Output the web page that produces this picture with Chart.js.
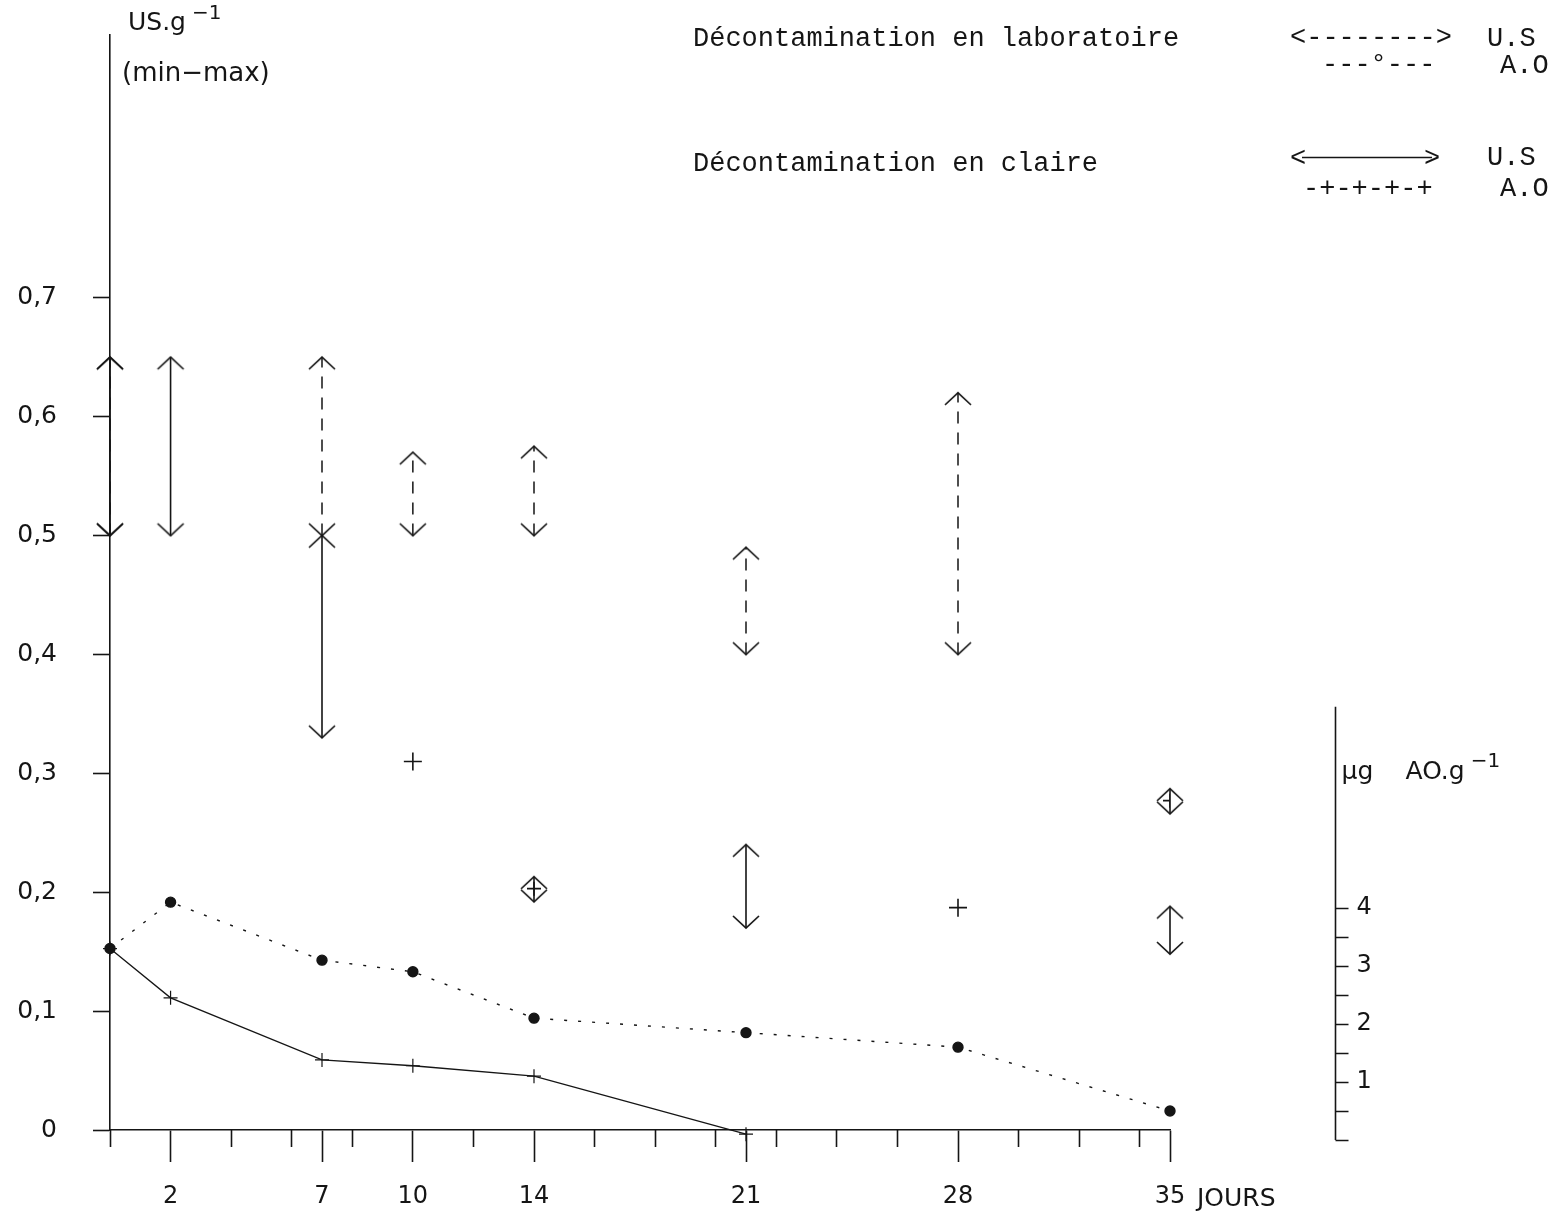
<!DOCTYPE html>
<html lang="fr">
<head>
<meta charset="utf-8">
<title>Décontamination en laboratoire / en claire</title>
<script src="https://cdn.jsdelivr.net/npm/chart.js@4.4.1/dist/chart.umd.min.js"></script>
<style>
  html, body { margin: 0; padding: 0; background: #fff; }
</style>
</head>
<body>
<canvas id="chart" width="1557" height="1221"></canvas>
<script>
// jours (axe x)
const X_MAJOR_TICKS = [2, 7, 10, 14, 21, 28, 35];
const X_MINOR_TICKS = [0, 4, 6, 8, 12, 16, 18, 20, 22, 24, 26, 30, 32, 34];
// axe gauche : US.g-1
const Y_TICKS = [0, 0.1, 0.2, 0.3, 0.4, 0.5, 0.6, 0.7];
// axe droit : µg AO.g-1
const AO_TICKS = [0, 0.5, 1, 1.5, 2, 2.5, 3, 3.5, 4];
const AO_LABELED = [1, 2, 3, 4];

// U.S (min-max), décontamination en laboratoire
const LAB_US_DAYS = [0, 7, 10, 14, 21, 28];
const LAB_US_MIN = [0.50, 0.50, 0.50, 0.50, 0.40, 0.40];
const LAB_US_MAX = [0.65, 0.65, 0.57, 0.575, 0.49, 0.62];

// U.S (min-max), décontamination en claire
const CLAIRE_US_DAYS = [0, 2, 7, 14, 21, 35, 35];
const CLAIRE_US_MIN = [0.50, 0.50, 0.33, 0.192, 0.17, 0.148, 0.266];
const CLAIRE_US_MAX = [0.65, 0.65, 0.50, 0.213, 0.24, 0.188, 0.287];

// valeurs isolées (+)
const US_SINGLE_DAYS = [10, 28];
const US_SINGLE_VALUES = [0.31, 0.187];
const US_INNER_DAYS = [14, 35];
const US_INNER_VALUES = [0.203, 0.277];

// A.O
const LAB_AO_DAYS = [0, 2, 7, 10, 14, 21, 28, 35];
const LAB_AO = [3.3, 4.1, 3.1, 2.9, 2.1, 1.85, 1.6, 0.5];
const CLAIRE_AO_DAYS = [0, 2, 7, 10, 14, 21];
const CLAIRE_AO = [3.3, 2.45, 1.38, 1.28, 1.1, 0.1];

const INK = '#151515';
const SANS = '"DejaVu Sans", sans-serif';
const MONO = '"Liberation Mono", monospace';

// bornes des échelles
const X_MAX = 35;
const Y_MAX = 0.921;
const AO_MIN = 0.172;
const AO_MAX = 19.05;
const AO_AXIS_DAY = 40.45;   // position de l'axe droit
const AO_AXIS_TOP = 7.47;

// pointes de flèche (la pointe est au centre de l'image)
function arrowHead(dir) {
    const c = document.createElement('canvas');
    c.width = 30; c.height = 30;
    const g = c.getContext('2d');
    g.strokeStyle = INK;
    g.lineWidth = 1.7;
    const dy = dir === 'up' ? 12 : -12;
    g.beginPath();
    g.moveTo(2, 15 + dy);
    g.lineTo(15, 15);
    g.lineTo(28, 15 + dy);
    g.stroke();
    return c;
}
const ARROW_UP = arrowHead('up');
const ARROW_DOWN = arrowHead('down');

const rangePoints = (days, mins, maxs) => days.flatMap((d, i) => [
    { x: d, y: mins[i] },
    { x: d, y: maxs[i] },
    { x: d, y: null }
]);
const xy = (days, vals) => days.map((d, i) => ({ x: d, y: vals[i] }));

const arrowStyle = (ctx) => ctx.dataIndex % 3 === 0 ? ARROW_DOWN : ARROW_UP;

function drawSup(ctx, base, sup, x, y, size, supSize, rise) {
    ctx.font = `${size}px ${SANS}`;
    ctx.fillText(base, x, y);
    const w = ctx.measureText(base).width;
    ctx.font = `${supSize}px ${SANS}`;
    ctx.fillText(sup, x + w + 6, y - rise);
}

const decorPlugin = {
    id: 'decor',
    afterDraw(chart) {
        const { ctx, chartArea, scales } = chart;
        const xs = scales.x;
        const ao = scales.y2;
        ctx.save();
        ctx.fillStyle = INK;
        ctx.strokeStyle = INK;
        ctx.textBaseline = 'alphabetic';
        ctx.textAlign = 'left';

        // titre axe gauche
        drawSup(ctx, 'US.g', '−1', chartArea.left + 18, chartArea.top - 5, 25, 20, 11);
        ctx.font = `26px ${SANS}`;
        ctx.fillText('(min−max)', chartArea.left + 12, chartArea.top + 46);

        // "JOURS" après le 35
        ctx.font = `25px ${SANS}`;
        ctx.fillText('JOURS', xs.getPixelForValue(X_MAX) + 27, 1206);

        // axe droit µg AO.g-1
        const ax = Math.round(xs.getPixelForValue(AO_AXIS_DAY)) + 0.5;
        const y0 = ao.getPixelForValue(0);
        const yTop = ao.getPixelForValue(AO_AXIS_TOP);
        ctx.lineWidth = 1.6;
        ctx.beginPath();
        ctx.moveTo(ax, yTop);
        ctx.lineTo(ax, y0);
        AO_TICKS.forEach(v => {
            const ty = Math.round(ao.getPixelForValue(v)) + 0.5;
            ctx.moveTo(ax, ty);
            ctx.lineTo(ax + 13, ty);
        });
        ctx.stroke();
        ctx.font = `24px ${SANS}`;
        ctx.textBaseline = 'middle';
        AO_LABELED.forEach(v => {
            ctx.fillText(String(v), ax + 21, ao.getPixelForValue(v));
        });
        ctx.textBaseline = 'alphabetic';
        ctx.font = `25px ${SANS}`;
        ctx.fillText('µg', ax + 6, yTop + 72);
        drawSup(ctx, 'AO.g', '−1', ax + 70, yTop + 72, 25, 20, 12);

        // légende
        ctx.font = `27px ${MONO}`;
        ctx.fillText('Décontamination en laboratoire', 693, 46);
        ctx.fillText('<-------->', 1290, 45);
        ctx.fillText('U.S', 1487, 46);
        ctx.fillText('---°---', 1322, 72);
        ctx.fillText('A.O', 1500, 73);

        ctx.fillText('Décontamination en claire', 693, 171);
        ctx.fillText('<', 1290, 166);
        ctx.fillText('>', 1424, 166);
        ctx.lineWidth = 1.6;
        ctx.beginPath();
        ctx.moveTo(1302, 157.5);
        ctx.lineTo(1432, 157.5);
        ctx.stroke();
        ctx.fillText('U.S', 1487, 165);
        ctx.fillText('-+-+-+-+', 1303, 196);
        ctx.fillText('A.O', 1500, 196);
        ctx.restore();
    }
};

const usFormat = (v) => v === 0 ? '0' : v.toFixed(1).replace('.', ',');

new Chart(document.getElementById('chart'), {
    type: 'line',
    data: {
        datasets: [
            {
                label: 'U.S laboratoire',
                data: rangePoints(LAB_US_DAYS, LAB_US_MIN, LAB_US_MAX),
                borderColor: INK,
                borderWidth: 1.5,
                borderDash: [12, 9],
                pointStyle: arrowStyle,
                pointRadius: 1,
                spanGaps: false,
                clip: false
            },
            {
                label: 'U.S claire',
                data: rangePoints(CLAIRE_US_DAYS, CLAIRE_US_MIN, CLAIRE_US_MAX),
                borderColor: INK,
                borderWidth: 1.6,
                pointStyle: arrowStyle,
                pointRadius: 1,
                spanGaps: false,
                clip: false
            },
            {
                label: 'U.S valeurs isolées',
                data: xy(US_SINGLE_DAYS, US_SINGLE_VALUES),
                showLine: false,
                pointStyle: 'cross',
                pointRadius: 9,
                pointBorderWidth: 1.6,
                pointBorderColor: INK
            },
            {
                label: 'U.S centre',
                data: xy(US_INNER_DAYS, US_INNER_VALUES),
                showLine: false,
                pointStyle: 'cross',
                pointRadius: 7,
                pointBorderWidth: 1.6,
                pointBorderColor: INK
            },
            {
                label: 'A.O claire',
                data: xy(CLAIRE_AO_DAYS, CLAIRE_AO),
                yAxisID: 'y2',
                borderColor: INK,
                borderWidth: 1.3,
                pointStyle: 'cross',
                pointRadius: 7,
                pointBorderWidth: 1.2,
                pointBorderColor: INK,
                clip: false
            },
            {
                label: 'A.O laboratoire',
                data: xy(LAB_AO_DAYS, LAB_AO),
                yAxisID: 'y2',
                borderColor: INK,
                borderWidth: 1.4,
                borderDash: [3, 11],
                pointStyle: 'circle',
                pointRadius: 5,
                pointBackgroundColor: INK,
                pointBorderColor: INK,
                clip: false
            }
        ]
    },
    options: {
        responsive: false,
        animation: false,
        events: [],
        layout: { padding: { top: 35, right: 387, left: 0, bottom: 0 } },
        plugins: {
            legend: { display: false },
            tooltip: { enabled: false }
        },
        scales: {
            x: {
                type: 'linear',
                position: 'bottom',
                weight: 1,
                min: 0,
                max: X_MAX,
                afterBuildTicks: (s) => { s.ticks = X_MAJOR_TICKS.map(v => ({ value: v })); },
                afterFit: (s) => { s.height = 91; },
                border: { display: true, color: INK, width: 1.6 },
                grid: { drawOnChartArea: false, tickLength: 32, tickWidth: 1.6, tickColor: INK },
                ticks: {
                    autoSkip: false,
                    maxRotation: 0,
                    padding: 20,
                    color: INK,
                    font: { family: 'DejaVu Sans', size: 24 },
                    callback: (v) => String(v)
                }
            },
            x2: {
                type: 'linear',
                position: 'bottom',
                weight: 0,
                min: 0,
                max: X_MAX,
                afterBuildTicks: (s) => { s.ticks = X_MINOR_TICKS.map(v => ({ value: v })); },
                afterFit: (s) => { s.height = 0; },
                border: { display: false },
                grid: { drawOnChartArea: false, tickLength: 17, tickWidth: 1.6, tickColor: INK },
                ticks: { display: false }
            },
            y: {
                type: 'linear',
                position: 'left',
                min: 0,
                max: Y_MAX,
                afterBuildTicks: (s) => { s.ticks = Y_TICKS.map(v => ({ value: v })); },
                afterFit: (s) => {
                    s.width = 110;
                    // pas de marge supplémentaire en haut (padding des labels)
                    s.paddingTop = 0;
                    s.paddingBottom = 0;
                },
                border: { display: true, color: INK, width: 1.6 },
                grid: { drawOnChartArea: false, tickLength: 17, tickWidth: 1.6, tickColor: INK },
                ticks: {
                    padding: 36,
                    color: INK,
                    font: { family: 'DejaVu Sans', size: 25 },
                    callback: usFormat
                }
            },
            y2: {
                type: 'linear',
                position: 'right',
                display: false,
                min: AO_MIN,
                max: AO_MAX
            }
        }
    },
    plugins: [decorPlugin]
});
</script>
</body>
</html>
